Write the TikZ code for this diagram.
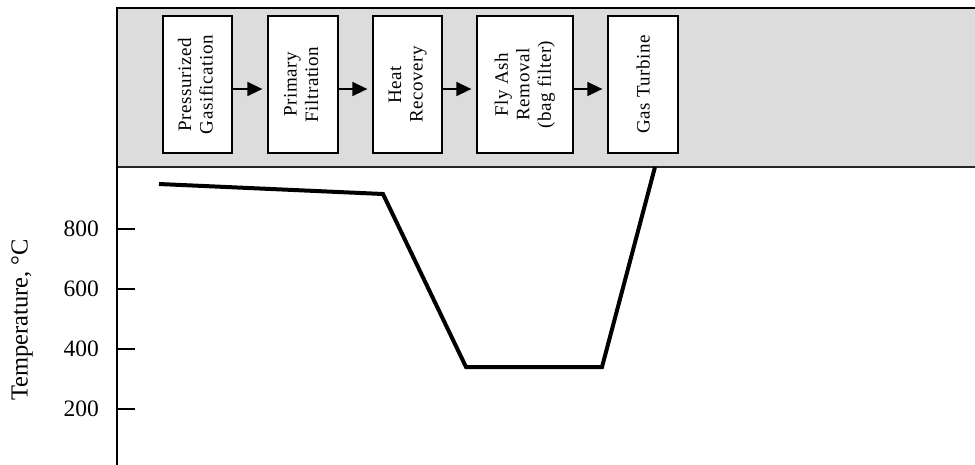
\documentclass[tikz,border=0pt]{standalone}
\usepackage{fontspec}
\setmainfont{Liberation Serif}
\newfontfamily\boxfont[LetterSpace=3]{Liberation Serif}
\usepackage{graphicx}
\usetikzlibrary{arrows.meta}
\definecolor{bandgray}{RGB}{220,220,220}
\tikzset{
  stepbox/.style={draw=black, line width=1.3pt, fill=white, inner sep=0pt,
    minimum height=137pt, font=\boxfont\fontsize{19}{21.5}\selectfont, align=center},
  flowarrow/.style={line width=1.6pt, -{Triangle[length=15pt,width=14pt]}, shorten >=5pt},
  ticklab/.style={anchor=east, inner sep=0pt, font=\fontsize{23.5}{26}\selectfont},
  tickmark/.style={line width=2pt},
  curve/.style={line width=4pt, line join=miter, line cap=butt}
}
\begin{document}
\begin{tikzpicture}[x=1pt,y=-1pt]
\useasboundingbox (0,0) rectangle (975,464);
% band
\fill[bandgray] (117,8) rectangle (975,167);
\draw[line width=2.5pt] (117,8) -- (975,8);
\draw[line width=2pt, draw=black!85] (117,167) -- (975,167);
\draw[line width=2.5pt] (117,7) -- (117,470);
% boxes
\node[stepbox, minimum width=69pt] (b1) at (197.5,84.5) {\rotatebox{90}{\begin{tabular}{@{}c@{}}Pressurized\\Gasification\end{tabular}}};
\node[stepbox, minimum width=70pt] (b2) at (303,84.5) {\rotatebox{90}{\begin{tabular}{@{}c@{}}Primary\\Filtration\end{tabular}}};
\node[stepbox, minimum width=69pt] (b3) at (407.5,84.5) {\rotatebox{90}{\begin{tabular}{@{}c@{}}Heat\\Recovery\end{tabular}}};
\node[stepbox, minimum width=96pt] (b4) at (525,84.5) {\rotatebox{90}{\begin{tabular}{@{}c@{}}Fly Ash\\Removal\\(bag filter)\end{tabular}}};
\node[stepbox, minimum width=70pt] (b5) at (643,84.5) {\rotatebox{90}{Gas Turbine}};
\coordinate (ya) at (0,89);
\draw[flowarrow] (b1.east |- ya) -- (b2.west |- ya);
\draw[flowarrow] (b2.east |- ya) -- (b3.west |- ya);
\draw[flowarrow] (b3.east |- ya) -- (b4.west |- ya);
\draw[flowarrow] (b4.east |- ya) -- (b5.west |- ya);
% ticks
\foreach \v/\yy in {800/229,600/289,400/349,200/409}{
  \draw[tickmark] (117,\yy) -- (135,\yy);
  \node[ticklab] (t\v) at (99,\yy) {\v};
}
\node[rotate=90, font=\fontsize{24.5}{27}\selectfont] (ylab) at (22,320) {Temperature, °C};
% temperature curve
\coordinate (p1) at (159,184);
\coordinate (p2) at (383,194);
\coordinate (p3) at (466,367);
\coordinate (p4) at (602,367);
\coordinate (p5) at (655,167);
\draw[curve] (p1) -- (p2) -- (p3) -- (p4) -- (p5);
\end{tikzpicture}
\end{document}
